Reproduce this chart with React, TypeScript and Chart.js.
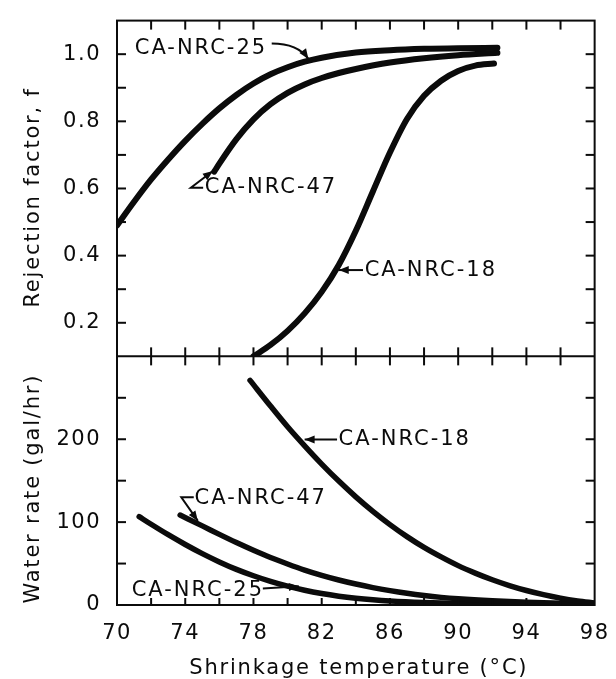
import React, { useEffect, useRef } from 'react';
import { Chart, registerables } from 'chart.js';

Chart.register(...registerables);

const INK = '#0b0b0b';
const FONT = 'DejaVu Sans';

// ---- axis definitions ----
const tempMin = 70;
const tempMax = 98;
const tempStep = 2;
const tempTickLabels = ['70', '74', '78', '82', '86', '90', '94', '98'];

const rejMin = 0.1;
const rejMax = 1.1;
const rejStep = 0.1;
const rejTickLabels = ['0.2', '0.4', '0.6', '0.8', '1.0'];

const waterMin = 0;
const waterMax = 300;
const waterStep = 50;
const waterTickLabels = ['0', '100', '200'];

// ---- top panel: rejection factor f ----
const rej25Temp = [70, 71, 72, 73, 74, 75, 76, 77, 78, 79, 80, 81, 82, 84, 86, 88, 90, 92.3];
const rej25F = [0.49, 0.5605, 0.627, 0.6865, 0.742, 0.7925, 0.8385, 0.8785, 0.9125, 0.94, 0.961, 0.9775, 0.9895, 1.005, 1.012, 1.016, 1.018, 1.019];

const rej47Temp = [75.7, 76, 77, 78, 79, 80, 81, 82, 83, 84, 86, 88, 90, 92.3];
const rej47F = [0.65, 0.674, 0.747, 0.806, 0.851, 0.885, 0.91, 0.929, 0.944, 0.956, 0.975, 0.988, 0.997, 1.004];

const rej18Temp = [78, 79, 80, 81, 82, 83, 84, 85, 86, 87, 88, 89, 90, 91, 92.1];
const rej18F = [0.1, 0.134, 0.176, 0.228, 0.292, 0.372, 0.474, 0.591, 0.707, 0.807, 0.876, 0.921, 0.95, 0.966, 0.972];

// ---- bottom panel: water rate (gal/hr) ----
const water18Temp = [77.8, 79, 80, 81, 82, 83, 84, 85, 86, 87, 88, 89, 90, 91, 92, 93, 94, 95, 96, 97, 98];
const water18 = [271, 240, 215, 192, 170, 149.5, 130.5, 113, 97, 82.5, 69.5, 58, 47.5, 38.5, 30.5, 23.5, 17.5, 12.5, 8.3, 5, 2.5];

const water47Temp = [73.7, 75, 76, 77, 78, 79, 80, 81, 82, 83, 84, 85, 86, 87, 88, 89, 90, 92, 94, 96, 98];
const water47 = [108.5, 95.5, 85.2, 75.3, 66, 57.3, 49.5, 42.2, 35.8, 30.2, 25.3, 21, 17.3, 14.1, 11.4, 9.2, 7.5, 5, 3.2, 2, 1.1];

const water25Temp = [71.3, 72, 73, 74, 75, 76, 77, 78, 79, 80, 81, 82, 83, 84, 85, 86, 88, 90, 94, 98];
const water25 = [106.6, 97.4, 84.8, 73, 62, 52, 43, 35.3, 28.5, 22.7, 17.8, 13.8, 10.6, 8.1, 6.2, 4.8, 3, 1.9, 0.9, 0.4];

// ---- curve labels (data coordinates) ----
const curveLabels = [
  { text: 'CA-NRC-25', axis: 'yF', at: [71.04, 1.018], arrow: [[79.07, 1.032], [80.6, 1.032], [81.22, 0.986]], curved: true },
  { text: 'CA-NRC-47', axis: 'yF', at: [75.15, 0.6025], arrow: [[75.05, 0.6025], [74.33, 0.6025], [75.62, 0.652]] },
  { text: 'CA-NRC-18', axis: 'yF', at: [84.52, 0.357], arrow: [[84.42, 0.357], [83.0, 0.357]] },
  { text: 'CA-NRC-18', axis: 'yW', at: [82.99, 199.8], arrow: [[82.9, 199.8], [81.0, 199.8]] },
  { text: 'CA-NRC-47', axis: 'yW', at: [74.55, 128.8], arrow: [[74.5, 129.9], [73.77, 129.9], [74.74, 101.5]] },
  { text: 'CA-NRC-25', axis: 'yW', at: [70.86, 17.8], arrow: [[78.55, 19.9], [80.66, 22.5]] },
];

const toPoints = (xs: number[], ys: number[]) => xs.map((x, i) => ({ x, y: ys[i] }));

function arrowHead(ctx: CanvasRenderingContext2D, fx: number, fy: number, tx: number, ty: number) {
  const a = Math.atan2(ty - fy, tx - fx);
  const L = 10;
  const W = 4;
  ctx.beginPath();
  ctx.moveTo(tx, ty);
  ctx.lineTo(tx - L * Math.cos(a) + W * Math.sin(a), ty - L * Math.sin(a) - W * Math.cos(a));
  ctx.lineTo(tx - L * Math.cos(a) - W * Math.sin(a), ty - L * Math.sin(a) + W * Math.cos(a));
  ctx.closePath();
  ctx.fill();
}

const spacingPlugin = {
  id: 'spacing',
  beforeDraw(chart: any) {
    chart.ctx.letterSpacing = '1.5px';
  },
};

const framePlugin = {
  id: 'frame',
  afterDatasetsDraw(chart: any) {
    const { ctx, chartArea: ca, scales } = chart;
    const xs = scales.x;
    const yF = scales.yF;
    const yW = scales.yW;
    const mid = yF.bottom;
    ctx.save();
    ctx.strokeStyle = INK;
    ctx.fillStyle = INK;
    ctx.lineWidth = 2;
    ctx.lineCap = 'butt';
    const seg = (x1: number, y1: number, x2: number, y2: number) => {
      ctx.beginPath();
      ctx.moveTo(x1, y1);
      ctx.lineTo(x2, y2);
      ctx.stroke();
    };
    ctx.strokeRect(ca.left, ca.top, ca.right - ca.left, ca.bottom - ca.top);
    seg(ca.left, mid, ca.right, mid);
    for (const t of xs.ticks) {
      if (t.value <= xs.min + 1e-6 || t.value >= xs.max - 1e-6) continue;
      const px = xs.getPixelForValue(t.value);
      seg(px, ca.top, px, ca.top + 9);
      seg(px, mid - 9, px, mid + 9);
      seg(px, ca.bottom, px, ca.bottom - 7);
    }
    for (const s of [yF, yW]) {
      const eps = (s.max - s.min) * 1e-4;
      for (const t of s.ticks) {
        if (t.value <= s.min + eps || t.value >= s.max - eps) continue;
        const py = s.getPixelForValue(t.value);
        seg(ca.left, py, ca.left + 9, py);
        seg(ca.right, py, ca.right - 9, py);
      }
    }

    // curve labels with arrows
    ctx.letterSpacing = '2px';
    ctx.font = `21px "${FONT}"`;
    ctx.textAlign = 'left';
    ctx.textBaseline = 'middle';
    for (const lab of curveLabels) {
      const ys = scales[lab.axis];
      ctx.fillText(lab.text, xs.getPixelForValue(lab.at[0]), ys.getPixelForValue(lab.at[1]));
      const pts = lab.arrow.map((p) => [xs.getPixelForValue(p[0]), ys.getPixelForValue(p[1])]);
      ctx.beginPath();
      ctx.moveTo(pts[0][0], pts[0][1]);
      if (lab.curved && pts.length === 3) {
        ctx.quadraticCurveTo(pts[1][0], pts[1][1], pts[2][0], pts[2][1]);
      } else {
        for (let i = 1; i < pts.length; i++) ctx.lineTo(pts[i][0], pts[i][1]);
      }
      ctx.stroke();
      const a = pts[pts.length - 2];
      const b = pts[pts.length - 1];
      arrowHead(ctx, a[0], a[1], b[0], b[1]);
    }

    // axis titles
    ctx.letterSpacing = '1.8px';
    ctx.textAlign = 'center';
    ctx.textBaseline = 'alphabetic';
    ctx.fillText('Shrinkage temperature (°C)', (ca.left + ca.right) / 2 + 3, 673.5);
    const vtitle = (text: string, cy: number) => {
      ctx.save();
      ctx.translate(39, cy);
      ctx.rotate(-Math.PI / 2);
      ctx.fillText(text, 0, 0);
      ctx.restore();
    };
    vtitle('Rejection factor, f', (yF.top + yF.bottom) / 2 + 9);
    vtitle('Water rate (gal/hr)', (yW.top + yW.bottom) / 2 + 8);
    ctx.restore();
  },
};

export default function App() {
  const ref = useRef<HTMLCanvasElement | null>(null);
  useEffect(() => {
    if (!ref.current) return;
    const line = (pts: { x: number; y: number }[], axis: string, width: number) => ({
      data: pts,
      yAxisID: axis,
      borderColor: INK,
      backgroundColor: INK,
      borderWidth: width,
      pointRadius: 0,
      fill: false,
      cubicInterpolationMode: 'monotone' as const,
      borderCapStyle: 'round' as const,
      borderJoinStyle: 'round' as const,
    });
    const fmt1 = (v: number) => (Math.round(v * 10) / 10).toFixed(1);
    const tickFont = { family: FONT, size: 21 };
    const chart = new Chart(ref.current, {
      type: 'line',
      data: {
        datasets: [
          line(toPoints(rej25Temp, rej25F), 'yF', 6),
          line(toPoints(rej47Temp, rej47F), 'yF', 6),
          line(toPoints(rej18Temp, rej18F), 'yF', 6),
          line(toPoints(water18Temp, water18), 'yW', 5.5),
          line(toPoints(water47Temp, water47), 'yW', 5.5),
          line(toPoints(water25Temp, water25), 'yW', 5.5),
        ],
      },
      options: {
        animation: false,
        responsive: false,
        maintainAspectRatio: false,
        devicePixelRatio: 1,
        layout: { padding: { left: 0, top: 12, right: 15, bottom: 0 } },
        plugins: { legend: { display: false }, tooltip: { enabled: false } },
        events: [],
        scales: {
          x: {
            type: 'linear',
            position: 'bottom',
            min: tempMin,
            max: tempMax,
            grid: { display: false },
            border: { display: false },
            afterFit: (s: any) => {
              s.height = 74;
            },
            ticks: {
              stepSize: tempStep,
              autoSkip: false,
              maxRotation: 0,
              padding: 8,
              color: INK,
              font: tickFont,
              callback: (v: any) => {
                const s = String(Math.round(Number(v)));
                return tempTickLabels.includes(s) ? s : '';
              },
            },
          },
          yW: {
            type: 'linear',
            position: 'left',
            stack: 'panels',
            stackWeight: 252.3,
            min: waterMin,
            max: waterMax,
            grid: { display: false },
            border: { display: false },
            afterFit: (s: any) => {
              s.width = 117;
            },
            ticks: {
              stepSize: waterStep,
              autoSkip: false,
              padding: 8,
              color: INK,
              font: tickFont,
              callback: (v: any) => {
                const s = String(Math.round(Number(v)));
                return waterTickLabels.includes(s) ? s : '';
              },
            },
          },
          yF: {
            type: 'linear',
            position: 'left',
            stack: 'panels',
            stackWeight: 340.7,
            min: rejMin,
            max: rejMax,
            grid: { display: false },
            border: { display: false },
            afterFit: (s: any) => {
              s.width = 117;
            },
            ticks: {
              stepSize: rejStep,
              autoSkip: false,
              padding: 8,
              color: INK,
              font: tickFont,
              callback: (v: any) => {
                const s = fmt1(Number(v));
                return rejTickLabels.includes(s) ? s : '';
              },
            },
          },
        },
      },
      plugins: [spacingPlugin, framePlugin],
    } as any);
    return () => chart.destroy();
  }, []);
  return (
    <div style={{ position: 'fixed', left: 0, top: 0, width: 616, height: 679, background: '#fff' }}>
      <canvas ref={ref} width={616} height={679} style={{ width: 616, height: 679, display: 'block' }} />
    </div>
  );
}
